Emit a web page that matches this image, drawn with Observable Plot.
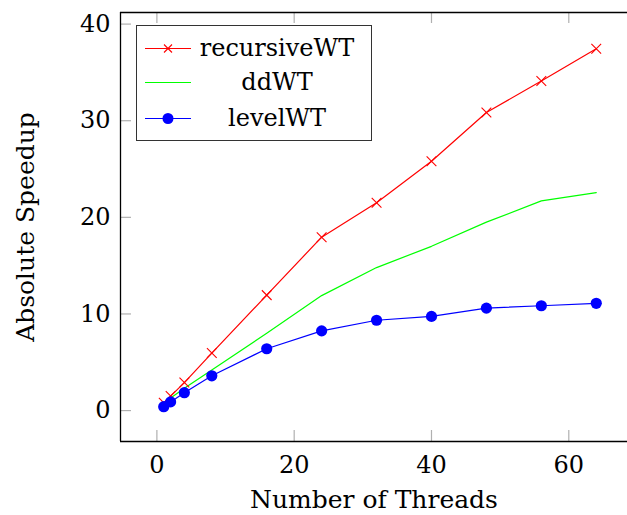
<!DOCTYPE html>
<html><head><meta charset="utf-8">
<script src="https://cdn.jsdelivr.net/npm/d3@7"></script>
<script src="https://cdn.jsdelivr.net/npm/@observablehq/plot@0.6"></script>
<style>
body{margin:0;background:#fff;}
#wrap{position:relative;width:627px;height:515px;overflow:hidden;}
#legend{position:absolute;left:136px;top:25px;width:236px;height:116px;border:1.4px solid #333;background:#fff;box-sizing:border-box;font-family:"DejaVu Serif";font-size:24px;color:#000;}
.row{position:absolute;left:0;width:100%;height:35px;}
.row svg{position:absolute;left:8px;top:0;}
.row span{position:absolute;left:60px;width:160px;text-align:center;line-height:35px;top:0;}
</style></head>
<body><div id="wrap"><div id="chart"></div><div id="legend"></div></div>
<script>
const threads = [1, 2, 4, 8, 16, 24, 32, 40, 48, 56, 64];
const recursiveWT = [0.8, 1.5, 2.9, 5.95, 11.95, 17.95, 21.5, 25.8, 30.85, 34.1, 37.45];
const ddWT = [0.7, 1.3, 2.3, 4.2, 8.0, 11.9, 14.8, 17.0, 19.5, 21.7, 22.55];
const levelWT = [0.4, 0.9, 1.85, 3.6, 6.4, 8.25, 9.35, 9.75, 10.6, 10.85, 11.1];
const seriesNames = ["recursiveWT", "ddWT", "levelWT"];
const seriesColors = ["#ff0000", "#00ff00", "#0000ff"];
const xTicks = [0, 20, 40, 60];
const yTicks = [0, 10, 20, 30, 40];
const xLabel = "Number of Threads";
const yLabel = "Absolute Speedup";

const xDom = [-5.3, 70.3], yDom = [-3.2, 41.2];
const mk = (vals) => threads.map((t, i) => ({x: t, y: vals[i]}));
const rec = mk(recursiveWT), dd = mk(ddWT), lvl = mk(levelWT);
const tkX = (xDom[1] - xDom[0]) * 11 / 519;
const tkY = (yDom[1] - yDom[0]) * 11 / 429;
const tickGrey = "#b0b0b0";

const chart = Plot.plot({
  width: 627, height: 515,
  marginLeft: 120, marginRight: 0, marginTop: 12, marginBottom: 74,
  x: {domain: xDom, range: [120, 639]},
  y: {domain: yDom},
  style: {fontFamily: "DejaVu Serif", fontSize: "24px", background: "white", color: "#000"},
  marks: [
    Plot.axisX({ticks: xTicks, tickSize: 0, tickPadding: 14, fontSize: 24, label: null}),
    Plot.axisY({ticks: yTicks, tickSize: 0, tickPadding: 10, fontSize: 24, label: null}),
    Plot.ruleX(xTicks, {x: d => d, y1: yDom[0], y2: yDom[0] + tkY, stroke: tickGrey, strokeWidth: 1.2}),
    Plot.ruleX(xTicks, {x: d => d, y1: yDom[1], y2: yDom[1] - tkY, stroke: tickGrey, strokeWidth: 1.2}),
    Plot.ruleY(yTicks, {y: d => d, x1: xDom[0], x2: xDom[0] + tkX, stroke: tickGrey, strokeWidth: 1.2}),
    Plot.ruleX([xDom[0]], {stroke: "#000", strokeWidth: 1.3}),
    Plot.ruleY([yDom[0], yDom[1]], {stroke: "#000", strokeWidth: 1.3}),
    Plot.line(rec, {x: "x", y: "y", stroke: seriesColors[0], strokeWidth: 1.2}),
    Plot.line(dd, {x: "x", y: "y", stroke: seriesColors[1], strokeWidth: 1.2}),
    Plot.line(lvl, {x: "x", y: "y", stroke: seriesColors[2], strokeWidth: 1.2}),
    Plot.dot(rec, {x: "x", y: "y", symbol: "times", r: 4.5, stroke: seriesColors[0], strokeWidth: 1.1}),
    Plot.dot(lvl, {x: "x", y: "y", r: 5.6, fill: seriesColors[2], stroke: null}),
    Plot.text([yLabel], {text: d => d, frameAnchor: "left", textAnchor: "middle", dx: -95, rotate: -90, fontSize: 25, lineAnchor: "middle", fill: "#000"}),
    Plot.text([xLabel], {text: d => d, frameAnchor: "bottom", dy: 58, fontSize: 25, lineAnchor: "middle", fill: "#000"})
  ]
});
document.getElementById("chart").appendChild(chart);

const leg = document.getElementById("legend");
const tops = [5, 39, 75];
seriesNames.forEach((name, i) => {
  const row = document.createElement("div");
  row.className = "row";
  row.style.top = tops[i] + "px";
  let marker = "";
  if (i === 0) marker = `<path d="M19,13.5L27,21.5M19,21.5L27,13.5" stroke="${seriesColors[i]}" stroke-width="1.1"/>`;
  if (i === 2) marker = `<circle cx="23" cy="17.5" r="5.5" fill="${seriesColors[i]}"/>`;
  row.innerHTML = `<svg width="46" height="35"><line x1="0" x2="46" y1="17.5" y2="17.5" stroke="${seriesColors[i]}" stroke-width="1.2"/>${marker}</svg><span>${name}</span>`;
  leg.appendChild(row);
});
</script>
</body></html>
